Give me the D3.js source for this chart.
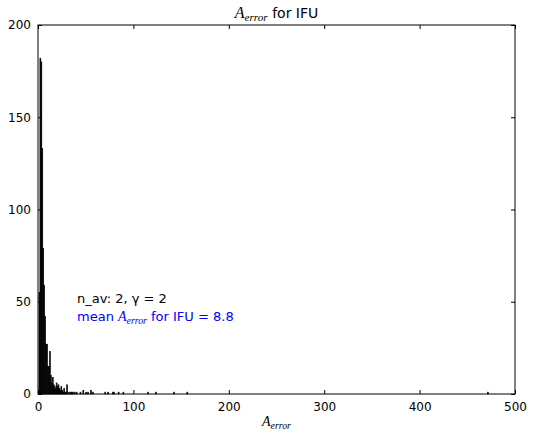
<!DOCTYPE html>
<html>
<head>
<meta charset="utf-8">
<script src="https://cdn.jsdelivr.net/npm/d3@7"></script>
<style>
  body { margin: 0; background: #fff; }
  text { font-family: "DejaVu Sans", sans-serif; }
</style>
</head>
<body>
<svg id="chart" width="534" height="433"></svg>
<script>
// histogram of A_error, bins of width 1
var binWidth = 1
var binStarts = [1, 2, 3, 4, 5, 6, 7, 8, 9, 10, 11, 12, 13, 14, 15, 16, 17, 18, 19, 20,
    21, 22, 23, 24, 25, 26, 27, 28, 29, 30, 31, 33, 34, 35, 36, 38, 40, 44, 47, 50,
    52, 55, 57, 70, 73, 78, 79, 84, 89, 115, 123, 142, 156, 471]
var counts = [55, 182, 180, 133, 79, 59, 42, 27, 27, 15, 15, 23, 10, 6, 9, 5, 4, 3, 6, 4,
    5, 3, 2, 4, 2, 1, 3, 1, 1, 5, 1, 1, 1, 1, 1, 1, 1, 1, 2, 1,
    1, 2, 1, 1, 1, 1, 1, 1, 1, 1, 1, 1, 1, 1]
var xTicks = [0, 100, 200, 300, 400, 500]
var yTicks = [0, 50, 100, 150, 200]

var dimensions = {
    width: 534,
    height: 433,
    margin: { top: 25, right: 19, bottom: 39, left: 38 }
}
var innerW = dimensions.width - dimensions.margin.left - dimensions.margin.right
var innerH = dimensions.height - dimensions.margin.top - dimensions.margin.bottom

var svg = d3.select("#chart")
var g = svg.append("g")
    .attr("transform", "translate(" + dimensions.margin.left + "," + dimensions.margin.top + ")")

var xScale = d3.scaleLinear().domain([0, 500]).range([0, innerW])
var yScale = d3.scaleLinear().domain([0, 200]).range([innerH, 0])

var bins = binStarts.map(function(b, i) { return { x0: b, x1: b + binWidth, n: counts[i] } })

// black bars with black edges so the mass reads as solid
g.selectAll("rect.bar")
    .data(bins)
    .enter().append("rect")
    .attr("class", "bar")
    .attr("x", d => xScale(d.x0))
    .attr("width", d => xScale(d.x1) - xScale(d.x0))
    .attr("y", d => yScale(d.n))
    .attr("height", d => innerH - yScale(d.n))
    .attr("fill", "#000")
    .attr("stroke", "#000")
    .attr("stroke-width", 0.6)

// axes, ticks pointing inward like matplotlib classic
function styleAxis(sel) {
    sel.select(".domain").remove()
    sel.selectAll("line").attr("stroke", "#000")
    sel.selectAll("text").attr("font-size", 12).attr("fill", "#000")
        .attr("font-family", "DejaVu Sans, sans-serif")
}
g.append("g").attr("transform", "translate(0," + innerH + ")")
    .call(d3.axisBottom(xScale).tickValues(xTicks).tickSize(-4).tickPadding(8))
    .call(styleAxis)
g.append("g")
    .call(d3.axisTop(xScale).tickValues(xTicks).tickSize(-4).tickFormat(""))
    .call(styleAxis)
g.append("g")
    .call(d3.axisLeft(yScale).tickValues(yTicks).tickSize(-4).tickPadding(7))
    .call(styleAxis)
g.append("g").attr("transform", "translate(" + innerW + ",0)")
    .call(d3.axisRight(yScale).tickValues(yTicks).tickSize(-4).tickFormat(""))
    .call(styleAxis)

g.append("rect")
    .attr("width", innerW).attr("height", innerH)
    .attr("fill", "none").attr("stroke", "#000").attr("stroke-width", 1)

// math-ish A_error label
function aError(sel, size) {
    sel.append("tspan").text("A")
        .attr("font-family", "Liberation Serif, serif").attr("font-style", "italic")
        .attr("font-size", size)
    sel.append("tspan").text("error")
        .attr("font-family", "Liberation Serif, serif").attr("font-style", "italic")
        .attr("font-size", size * 0.7).attr("dy", size * 0.2)
}

var title = svg.append("text")
    .attr("x", dimensions.margin.left + innerW / 2).attr("y", 18)
    .attr("text-anchor", "middle").attr("font-size", 14)
title.call(aError, 16)
title.append("tspan").text(" for IFU").attr("dy", -16 * 0.2)

var xLabel = svg.append("text")
    .attr("x", dimensions.margin.left + innerW / 2).attr("y", 426)
    .attr("text-anchor", "middle").attr("font-size", 13)
xLabel.call(aError, 14)

svg.append("text")
    .attr("x", 77).attr("y", 303)
    .attr("font-size", 13).attr("fill", "#000")
    .text("n_av: 2, γ = 2")

var meanText = svg.append("text")
    .attr("x", 77).attr("y", 321)
    .attr("font-size", 13).attr("fill", "#0000ff")
meanText.append("tspan").text("mean ")
meanText.call(aError, 14)
meanText.append("tspan").text(" for IFU = 8.8").attr("dy", -14 * 0.2)
</script>
</body>
</html>
